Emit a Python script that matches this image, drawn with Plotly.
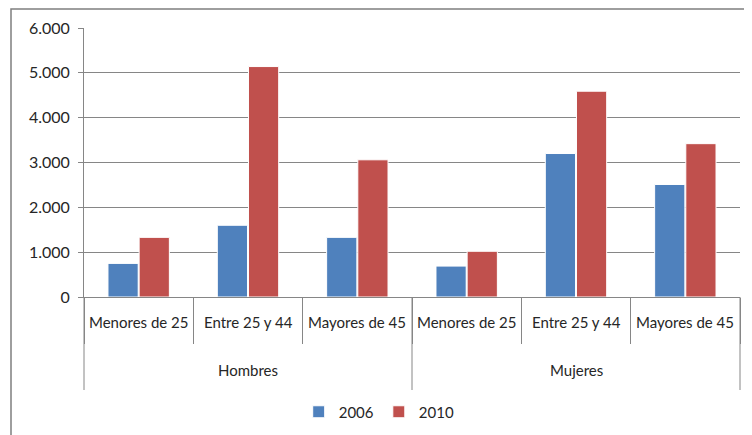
import plotly.graph_objects as go

grupos = ["Hombres", "Hombres", "Hombres", "Mujeres", "Mujeres", "Mujeres"]
edades = ["Menores de 25", "Entre 25 y 44", "Mayores de 45",
          "Menores de 25", "Entre 25 y 44", "Mayores de 45"]
valores_2006 = [750, 1600, 1330, 690, 3200, 2510]
valores_2010 = [1330, 5140, 3060, 1020, 4590, 3420]

fuente = "Lato"
gris = "#868686"
# la pagina tiene 8px de margen en el body, se compensa aqui
ancho, alto = 744, 427
m_izq, m_der, m_sup, m_inf = 76, 12, 20, 138
alto_plot = alto - m_sup - m_inf
ancho_plot = ancho - m_izq - m_der

fig = go.Figure()
fig.add_trace(go.Bar(name="2006", x=[grupos, edades], y=valores_2006,
                     marker=dict(color="#4F81BD", line=dict(color="white", width=1))))
fig.add_trace(go.Bar(name="2010", x=[grupos, edades], y=valores_2010,
                     marker=dict(color="#C0504D", line=dict(color="white", width=1))))

fig.update_layout(
    width=ancho, height=alto,
    margin=dict(l=m_izq, r=m_der, t=m_sup, b=m_inf, autoexpand=False),
    paper_bgcolor="white", plot_bgcolor="white",
    separators=",.",
    font=dict(family=fuente, size=15, color="#262626"),
    barmode="group", bargap=0.43, bargroupgap=0.03,
    showlegend=True,
    legend=dict(orientation="h", x=0.45, xanchor="center",
                y=-115 / alto_plot, yanchor="middle",
                itemwidth=30, font=dict(size=15)),
)
fig.update_yaxes(range=[0, 6000], dtick=1000, tickformat=",d",
                 tickfont=dict(size=16), ticklabelstandoff=5,
                 showgrid=True, gridcolor=gris, gridwidth=1,
                 showline=True, linecolor=gris, ticks="outside", ticklen=5,
                 tickcolor=gris, zeroline=False, automargin=False)
fig.update_xaxes(type="multicategory", showline=True, linecolor=gris,
                 showticklabels=False, showdividers=False,
                 ticks="outside", tickson="boundaries", ticklen=46, tickcolor=gris,
                 automargin=False)

# etiquetas de edad y de grupo
n = len(edades)
for i, txt in enumerate(edades):
    fig.add_annotation(text=txt, xref="paper", yref="paper",
                       x=(i + 0.5) / n, y=-25 / alto_plot,
                       showarrow=False, xanchor="center", yanchor="middle")
for j, g in enumerate(["Hombres", "Mujeres"]):
    fig.add_annotation(text=g, xref="paper", yref="paper",
                       x=(j + 0.5) / 2, y=-73 / alto_plot,
                       showarrow=False, xanchor="center", yanchor="middle")
# separadores largos entre grupos
for xp in [0, 0.5, 1]:
    fig.add_shape(type="line", xref="paper", yref="paper",
                  x0=xp, x1=xp, y0=0, y1=-93 / alto_plot,
                  line=dict(color=gris, width=1))

# marco exterior del grafico
fig.add_shape(type="rect", xref="paper", yref="paper",
              x0=-73 / ancho_plot, x1=1.05, y0=-0.6, y1=1 + 19 / alto_plot,
              line=dict(color="#7f7f7f", width=1.5), fillcolor="rgba(0,0,0,0)")

fig.write_html("out.html")
